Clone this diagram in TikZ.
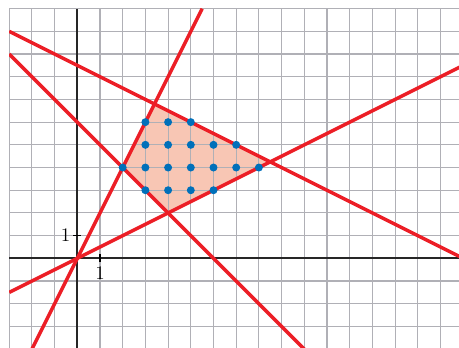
\documentclass[tikz,border=0pt]{standalone}
\usetikzlibrary{positioning}
\definecolor{linered}{RGB}{236,30,38}
\definecolor{dotblue}{RGB}{0,112,186}
\definecolor{regionfill}{RGB}{248,198,180}
\definecolor{gridgrey}{RGB}{176,176,182}
\tikzset{
  gridline/.style={gridgrey, line width=0.85pt},
  axisline/.style={black!85, line width=1.5pt},
  redline/.style={linered, line width=2.6pt},
  lattice/.style={dotblue}
}

\begin{document}
\begin{tikzpicture}[x=0.6cm,y=0.6cm]
			\useasboundingbox (-3.405,-3.91) rectangle (16.815,11.38);
			\fill[regionfill] (2,4) -- (3.4,6.8) -- (8.5,4.25) -- (4,2) -- cycle;

			\begin{scope}
			\clip (-3,-3.91) rectangle (16.815,11);
			\foreach \gx in {-3,...,17}
			\draw[gridline] (\gx,-5) -- (\gx,11);
			\foreach \gy in {-4,...,11}
			\draw[gridline] (-3,\gy) -- (17,\gy);

			\draw[axisline] (-3,0) -- (17,0);
			\draw[axisline] (0,-5) -- (0,11);
			\draw[black, line width=1.2pt] (1,-0.17) -- (1,0.17);
			\draw[black, line width=1.2pt] (-0.17,1) -- (0.17,1);

			\draw[redline] (-2,-4) -- (5.5,11);
			\draw[redline] (-3,-1.5) -- (17,8.5);
			\draw[redline] (-3,10) -- (17,0);
			\draw[redline] (-3,9) -- (10,-4);
			\end{scope}

			\node[font=\Large] (labx) at (1,-0.64) {1};
			\node[font=\Large] (laby) at (-0.52,1.02) {1};

			\foreach \px in {3,4,5}
			\fill[lattice] (\px,6) circle (3pt);
			\foreach \px in {3,...,7}
			\fill[lattice] (\px,5) circle (3pt);
			\foreach \px in {2,...,8}
			\fill[lattice] (\px,4) circle (3pt);
			\foreach \px in {3,...,6}
			\fill[lattice] (\px,3) circle (3pt);
\end{tikzpicture}
\end{document}
